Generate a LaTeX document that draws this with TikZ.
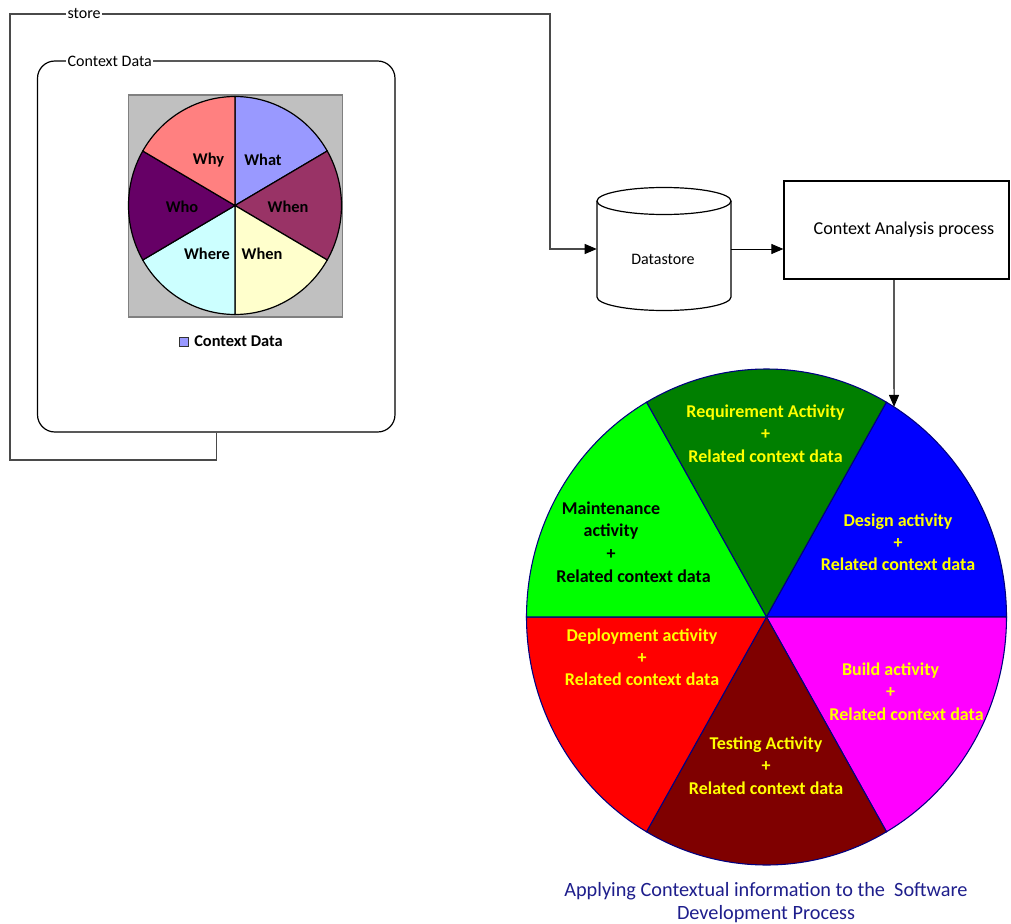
\documentclass[tikz,border=0pt]{standalone}
\usepackage{fontspec}
\setmainfont{Carlito}
\usetikzlibrary{arrows.meta}

% chart colours
\definecolor{cWhat}{HTML}{9999FF}
\definecolor{cWhenA}{HTML}{993366}
\definecolor{cWhenB}{HTML}{FFFFCC}
\definecolor{cWhere}{HTML}{CCFFFF}
\definecolor{cWho}{HTML}{660066}
\definecolor{cWhy}{HTML}{FF8080}
\definecolor{cPlot}{HTML}{C0C0C0}
\definecolor{cPlotEdge}{HTML}{808080}
\definecolor{cReq}{HTML}{007F00}
\definecolor{cDes}{HTML}{0000FF}
\definecolor{cBld}{HTML}{FF00FF}
\definecolor{cTst}{HTML}{7F0000}
\definecolor{cDep}{HTML}{FF0000}
\definecolor{cMnt}{HTML}{00FF00}
\definecolor{cEdge}{HTML}{000080}
\definecolor{cCap}{HTML}{1E1E8C}
\definecolor{cStore}{HTML}{4A4A4A}
\definecolor{cYel}{HTML}{FFFF00}

\tikzset{
  plain/.style={font=\fontsize{12pt}{14pt}\selectfont, inner sep=0pt},
  edgelabel/.style={plain, fill=white, inner sep=1pt, anchor=west},
  wlabel/.style={font=\fontsize{12.3pt}{14pt}\selectfont\bfseries, inner sep=0pt},
  slabel/.style={font=\fontsize{13.5pt}{16.7pt}\selectfont\bfseries, text=cYel,
                 align=center, inner sep=0pt},
  flowtip/.style={-{Triangle[length=9pt,width=7.5pt,black]}},
  storeline/.style={draw=cStore, line width=0.8pt},
}

\begin{document}
\begin{tikzpicture}[x=0.75pt, y=-0.75pt, line join=miter]
\useasboundingbox (0,0) rectangle (1011,924);

% ---------- context data panel ----------
\node[draw, line width=0.9pt, rounded corners=13pt,
      minimum width=357.5*0.75pt, minimum height=371*0.75pt] (ctx) at (216.25,246.5) {};
\node[edgelabel] (ctxlabel) at (66,61) {Context Data};

% chart plot area
\node[draw=cPlotEdge, fill=cPlot, line width=0.8pt,
      minimum width=213.5*0.75pt, minimum height=222*0.75pt] (plot) at (235.3,206) {};
\coordinate (sc) at (235,205.5);
\foreach \a/\b/\c in {-90/-30/cWhat, -30/30/cWhenA, 30/90/cWhenB,
                      90/150/cWhere, 150/210/cWho, 210/270/cWhy}{
  \filldraw[fill=\c, draw=black, line width=0.9pt]
    (sc) -- ++(\a:106.5 and 109) arc[start angle=\a, end angle=\b,
                                     x radius=106.5, y radius=109] -- cycle;
}
\node[wlabel] (why)    at (208.5,160) {Why};
\node[wlabel] (what)   at (263,160)   {What};
\node[wlabel] (who)    at (182,207)   {Who};
\node[wlabel] (whenA)  at (288,207)   {When};
\node[wlabel] (where)  at (207,254)   {Where};
\node[wlabel] (whenB)  at (262,254)   {When};

% legend
\node[draw=black!80, fill=cWhat, line width=0.7pt, inner sep=0pt,
      minimum size=9*0.75pt] (legsq) at (183.5,341.5) {};
\node[wlabel, anchor=west] (legtext) at (194,341.5) {Context Data};

% ---------- datastore ----------
\filldraw[fill=white, draw=black, line width=0.9pt]
  (597,201) -- (597,297) arc[start angle=180, end angle=0, x radius=67, y radius=13.5]
  -- (731,201);
\draw[line width=0.9pt] (664,201) ellipse[x radius=67, y radius=13.5];
\node[plain, minimum width=134*0.75pt, minimum height=122*0.75pt] (ds) at (664,249) {};
\node[plain] (dslabel) at (663,259) {Datastore};

% ---------- analysis process ----------
\node[draw, line width=0.9pt, minimum width=225*0.75pt, minimum height=98*0.75pt]
  (cap) at (896.5,230) {};
\node[plain, font=\fontsize{13.6pt}{16pt}\selectfont] (caplabel) at (904,230)
  {Context Analysis process};

% ---------- connectors ----------
\draw[storeline, flowtip]
  (ctx.south) -- (ctx.south |- 0,460) -- (10,460) -- (10,14) -- (550,14)
  -- (550,0 |- ds.west) -- (ds.west);
\node[edgelabel] (storelabel) at (66,14) {store};

\draw[line width=0.75pt, flowtip] (ds.east) -- (ds.east -| cap.west);

% ---------- software development process ----------
\coordinate (bc) at (766.5,617);
\foreach \a/\b/\c in {240/300/cReq, 300/360/cDes, 0/60/cBld,
                      60/120/cTst, 120/180/cDep, 180/240/cMnt}{
  \filldraw[fill=\c, draw=cEdge, line width=0.8pt]
    (bc) -- ++(\a:240 and 248) arc[start angle=\a, end angle=\b,
                                   x radius=240, y radius=248] -- cycle;
}
\path (bc) ++(-57.9:240 and 248) coordinate (pietop);
\draw[line width=0.8pt, flowtip] (894,0 |- cap.south) -- (pietop);

\node[slabel] (req) at (765.5,433.5)
  {Requirement Activity\\+\\Related context data};
\node[slabel] (des) at (898,542)
  {Design activity\\+\\Related context data};
\node[slabel, text=black] (mnt) at (611,530.5)
  {Maintenance\\activity\\+};
\node[slabel, text=black] (mntrel) at (633.5,576)
  {Related context data};
\node[slabel] (dep) at (642,657)
  {Deployment activity\\+\\Related context data};
\node[slabel] (bld) at (890.5,680)
  {Build activity\\+};
\node[slabel] (bldrel) at (906.5,714)
  {Related context data};
\node[slabel] (tst) at (766,765.5)
  {Testing Activity\\+\\Related context data};

\node[plain, text=cCap, align=center, font=\fontsize{15.2pt}{17.3pt}\selectfont]
  (caption) at (766,902.5)
  {Applying Contextual information to the\ \ Software\\Development Process};
\end{tikzpicture}
\end{document}
